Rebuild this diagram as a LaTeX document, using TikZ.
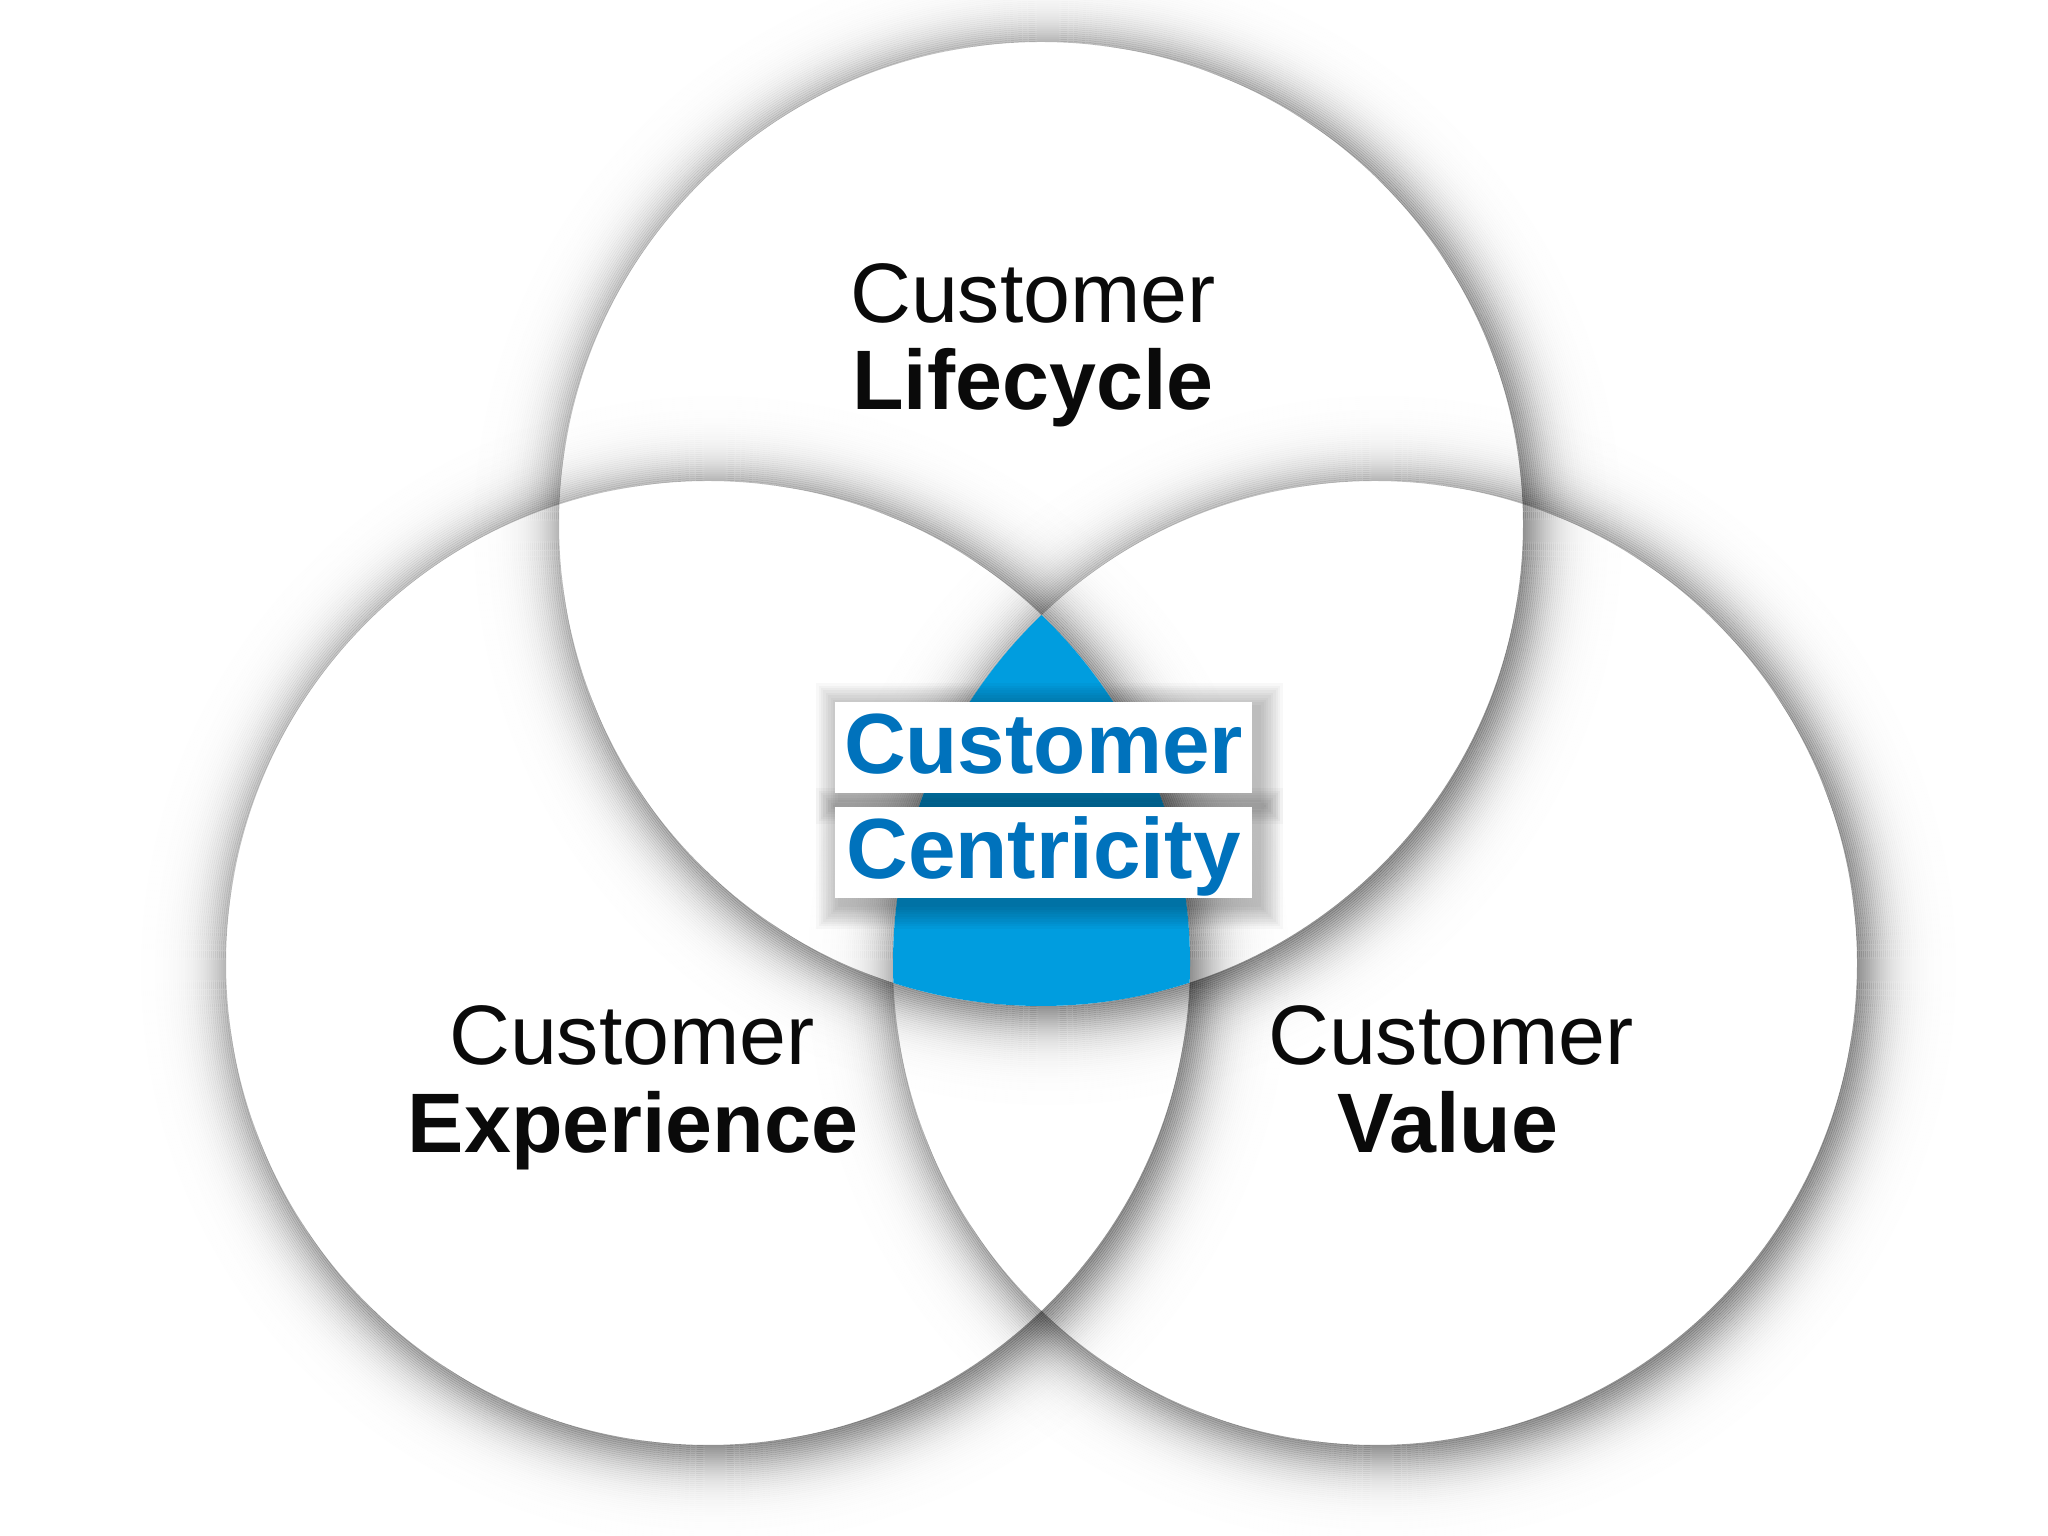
\documentclass[tikz,border=0pt]{standalone}
\usepackage{fontspec}
\setmainfont{Liberation Sans}
\definecolor{ccblue}{RGB}{0,157,223}
\definecolor{ccdark}{RGB}{0,114,188}
\definecolor{txtblack}{RGB}{10,10,10}
\pgfdeclarelayer{bg}
\pgfdeclarelayer{sh}
\pgfsetlayers{bg,sh,main}
\tikzset{
  lbl/.style={font=\fontsize{24}{26}\selectfont, text=txtblack, anchor=base, inner sep=0pt},
  lblb/.style={font=\fontsize{24}{26}\selectfont\bfseries, text=txtblack, anchor=base, inner sep=0pt},
  ccbox/.style={fill=white, minimum width=4.17cm, minimum height=0.91cm, inner sep=0pt,
    text height=18.2pt, text depth=3.4pt, font=\fontsize{24.3}{26}\selectfont\bfseries, text=ccdark},
  boxshadow/.style={fill=black, opacity=0.026},
  ring/.style={draw=black, line width=0.022cm},
}
\newcommand{\circshadow}[1]{%
  \begin{scope}[even odd rule]
    \clip (-100,-100) rectangle (2200,1700) (#1) circle [radius=482];
    \foreach \s in {-20,-18,...,90} {
      \pgfmathsetmacro\op{0.67/(1+exp(0.0602*(\s+1)))}
      \pgfmathsetmacro\rr{482+\s+1}
      \path[ring, draw opacity=\op] ([shift={(7,-7)}]#1) circle [radius=\rr];
    }
  \end{scope}}
\begin{document}
\begin{tikzpicture}[x=0.01cm, y=0.01cm]
\useasboundingbox (0,0) rectangle (2048,1536);
\coordinate (T) at (1041,1012);
\coordinate (L) at (708,573);
\coordinate (R) at (1375,573);
\begin{pgfonlayer}{bg}
  \fill[white] (0,0) rectangle (2048,1536);
  \circshadow{T}
  \circshadow{L}
  \circshadow{R}
  \begin{scope}
    \clip (L) circle [radius=482];
    \clip (R) circle [radius=482];
    \fill[ccblue] (T) circle [radius=482];
  \end{scope}
\end{pgfonlayer}
% labels
\node[lbl]  (lc1) at (1033,1213) {Customer};
\node[lblb] (lc2) at (1033,1126) {Lifecycle};
\node[lbl]  (ex1) at (632,471) {Customer};
\node[lblb] (ex2) at (633,383) {Experience};
\node[lbl]  (va1) at (1451,471) {Customer};
\node[lblb] (va2) at (1448,383) {Value};
% centre boxes
\node[ccbox] (b1) at (1043.5,788.5) {Customer};
\node[ccbox] (b2) at (1043.5,683.5) {Centricity};
\begin{pgfonlayer}{sh}
  \foreach \k in {1,...,10} {
    \fill[boxshadow] ([xshift=-\k*0.024cm+0.06cm, yshift=-\k*0.024cm-0.06cm]b1.south west) rectangle ([xshift=\k*0.024cm+0.06cm, yshift=\k*0.024cm-0.06cm]b1.north east);
    \fill[boxshadow] ([xshift=-\k*0.024cm+0.06cm, yshift=-\k*0.024cm-0.06cm]b2.south west) rectangle ([xshift=\k*0.024cm+0.06cm, yshift=\k*0.024cm-0.06cm]b2.north east);
  }
\end{pgfonlayer}
\end{tikzpicture}
\end{document}
